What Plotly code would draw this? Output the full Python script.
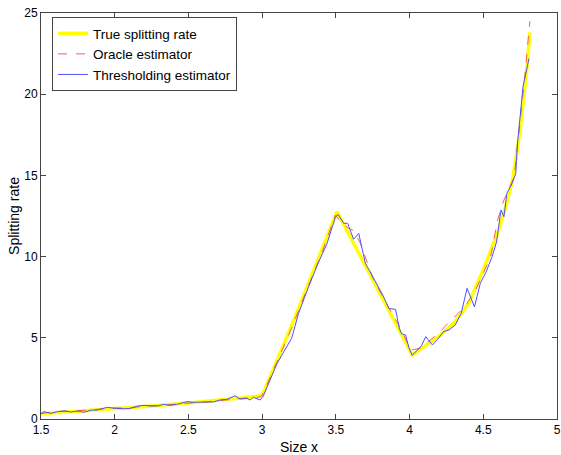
import plotly.graph_objects as go

# True splitting rate
true_x = [1.5, 1.75, 2.0, 2.25, 2.5, 2.75, 3.0, 3.2, 3.508, 4.018, 4.1, 4.2, 4.3, 4.4, 4.5,
          4.6, 4.65, 4.7, 4.75, 4.8, 4.815]
true_y = [0.33, 0.47, 0.63, 0.80, 0.98, 1.18, 1.43, 5.75, 12.77, 3.94, 4.45, 5.1, 5.9, 7.1, 9.2,
          11.5, 13.0, 14.8, 17.8, 22.0, 23.8]

# Oracle estimator
oracle_x = [1.5, 1.55, 1.62, 1.7, 1.78, 1.85, 1.92, 2.0, 2.08, 2.15, 2.22, 2.3, 2.38, 2.45, 2.52,
            2.6, 2.68, 2.75, 2.82, 2.9, 2.96, 3.0, 3.1, 3.2, 3.3, 3.4, 3.497, 3.54, 3.587, 3.62,
            3.667, 3.75, 3.85, 3.95, 4.005, 4.07, 4.14, 4.2, 4.27, 4.33, 4.39, 4.45, 4.5, 4.55,
            4.597, 4.64, 4.71, 4.744, 4.78, 4.816]
oracle_y = [0.35, 0.40, 0.46, 0.47, 0.53, 0.58, 0.62, 0.68, 0.68, 0.76, 0.80, 0.84, 0.89, 0.94, 1.0,
            1.04, 1.10, 1.17, 1.24, 1.30, 1.28, 1.45, 3.5, 5.6, 7.9, 10.1, 12.56, 12.05, 11.74, 11.6,
            10.8, 8.7, 7.0, 5.4, 4.25, 4.35, 4.86, 5.3, 5.99, 6.5, 7.12, 8.0, 8.97, 10.0,
            12.25, 13.48, 14.9, 17.8, 20.9, 24.5]

# Thresholding estimator
thr_x = [1.5, 1.52, 1.567, 1.61, 1.66, 1.70, 1.75, 1.79, 1.84, 1.88, 1.95, 2.0, 2.07, 2.11, 2.156,
         2.20, 2.25, 2.29, 2.33, 2.374, 2.42, 2.49, 2.53, 2.60, 2.67, 2.714, 2.76, 2.816, 2.85,
         2.896, 2.918, 2.94, 2.986, 3.008, 3.1, 3.2, 3.247, 3.315, 3.38, 3.44, 3.497, 3.515,
         3.553, 3.58, 3.62, 3.655, 3.70, 3.76, 3.82, 3.86, 3.905, 3.93, 3.945, 3.973, 3.995,
         4.018, 4.05, 4.08, 4.11, 4.155, 4.19, 4.23, 4.27, 4.31, 4.35, 4.39, 4.44, 4.48, 4.52,
         4.56, 4.59, 4.62, 4.64, 4.66, 4.69, 4.72, 4.73, 4.77, 4.81]
thr_y = [0.32, 0.45, 0.35, 0.45, 0.51, 0.43, 0.49, 0.41, 0.55, 0.55, 0.72, 0.66, 0.63, 0.66, 0.80,
         0.84, 0.80, 0.80, 0.90, 0.84, 0.90, 1.07, 1.03, 1.05, 1.05, 1.17, 1.21, 1.43, 1.23,
         1.27, 1.17, 1.34, 1.17, 1.42, 3.4, 4.97, 6.5, 8.15, 9.6, 10.8, 12.45, 12.6,
         12.05, 12.05, 11.07, 11.43, 9.59, 8.6, 7.6, 6.8, 6.75, 5.6, 5.25, 5.17, 4.4,
         3.92, 4.25, 4.5, 5.07, 4.56, 4.9, 5.38, 5.5, 5.79, 6.5, 8.05, 6.9, 8.36, 9.07,
         10.0, 10.9, 12.87, 12.46, 13.9, 14.4, 15.1, 16.77, 20.5, 22.2]

x_ticks = [1.5, 2, 2.5, 3, 3.5, 4, 4.5, 5]
x_tick_labels = ["1.5", "2", "2.5", "3", "3.5", "4", "4.5", "5"]
y_ticks = [0, 5, 10, 15, 20, 25]

fig = go.Figure()
fig.add_trace(go.Scatter(x=true_x, y=true_y, mode="lines", name="True splitting rate",
                         line=dict(color="#ffff00", width=3.5)))
fig.add_trace(go.Scatter(x=oracle_x, y=oracle_y, mode="lines", name="Oracle estimator",
                         line=dict(color="rgb(255,90,90)", width=1, dash="dash")))
fig.add_trace(go.Scatter(x=thr_x, y=thr_y, mode="lines", name="Thresholding estimator",
                         line=dict(color="rgb(80,80,255)", width=1)))

axis_common = dict(showline=True, linecolor="#444444", linewidth=1, mirror="ticks",
                   ticks="inside", ticklen=5, tickcolor="#444444", showgrid=False,
                   zeroline=False, tickfont=dict(size=12, color="black"),
                   automargin=False, ticklabeloverflow="allow")

fig.update_layout(
    width=561, height=455,
    margin=dict(l=41, r=4, t=13, b=36),
    paper_bgcolor="white", plot_bgcolor="white",
    font=dict(family="Liberation Sans, Arial, sans-serif", color="black"),
    xaxis=dict(range=[1.5, 5], tickvals=x_ticks, ticktext=x_tick_labels,
               title=dict(text="Size x", font=dict(size=14), standoff=6), **axis_common),
    yaxis=dict(range=[0, 25], tickvals=y_ticks,
               title=dict(text="Splitting rate", font=dict(size=14), standoff=1), **axis_common),
    legend=dict(x=0.0214, y=0.99, xanchor="left", yanchor="top",
                bgcolor="white", bordercolor="#444444", borderwidth=1,
                font=dict(size=13.5), tracegroupgap=0, itemwidth=30),
    showlegend=True,
)

fig.write_html("out.html", config={"displayModeBar": False},
               post_script="document.body.style.margin='0';document.body.style.overflow='hidden';")
